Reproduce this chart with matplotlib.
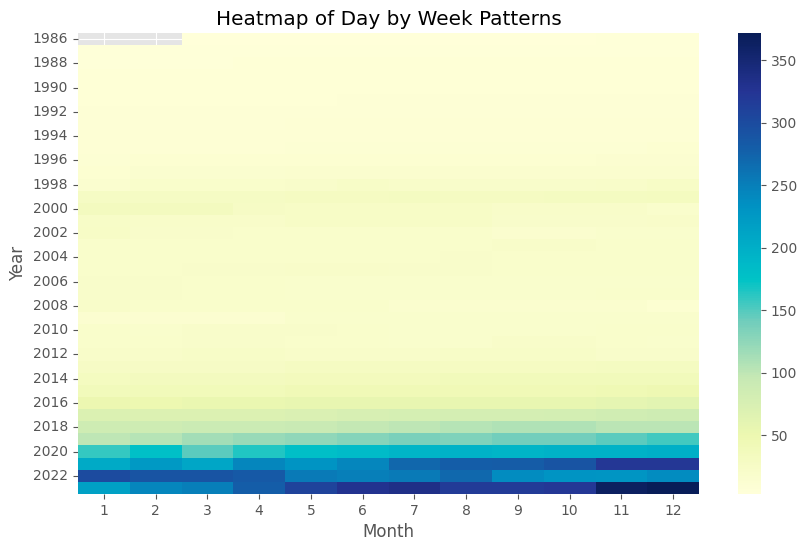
import matplotlib
matplotlib.use("Agg")
import matplotlib.pyplot as plt
from matplotlib.colors import LinearSegmentedColormap
import numpy as np
import pandas as pd
import seaborn as sns

plt.style.use("ggplot")

nan = np.nan

# years (rows) and months (columns) of the heatmap
years = list(range(1986, 2024))
months = list(range(1, 13))

# monthly counts per year (1986 starts in March)
counts = [
    [nan, nan, 3, 3, 3, 4, 4, 4, 4, 4, 5, 5],         # 1986
    [5, 5, 5, 5, 5, 5, 5, 5, 5, 5, 5, 5],             # 1987
    [5, 5, 5, 6, 6, 6, 6, 6, 6, 6, 6, 6],             # 1988
    [6, 6, 6, 6, 6, 6, 6, 6, 6, 7, 7, 7],             # 1989
    [7, 7, 7, 7, 7, 7, 7, 7, 7, 7, 7, 7],             # 1990
    [7, 7, 7, 7, 7, 8, 8, 8, 8, 8, 8, 8],             # 1991
    [8, 8, 8, 8, 8, 8, 8, 8, 8, 8, 8, 8],             # 1992
    [8, 8, 8, 8, 9, 9, 9, 9, 9, 9, 9, 9],             # 1993
    [9, 9, 9, 9, 10, 10, 10, 10, 10, 10, 10, 10],     # 1994
    [10, 10, 10, 10, 11, 11, 11, 11, 11, 11, 11, 12], # 1995
    [11, 12, 12, 12, 13, 13, 13, 13, 13, 13, 14, 14], # 1996
    [13, 15, 15, 15, 16, 17, 17, 16, 16, 16, 17, 17], # 1997
    [15, 20, 20, 20, 21, 24, 22, 21, 21, 21, 22, 26], # 1998
    [28, 28, 28, 28, 29, 30, 31, 30, 30, 31, 31, 32], # 1999
    [34, 34, 34, 27, 26, 26, 26, 25, 23, 23, 23, 18], # 2000
    [24, 22, 22, 22, 25, 25, 25, 25, 21, 21, 21, 22], # 2001
    [26, 21, 21, 20, 20, 20, 20, 20, 16, 16, 18, 18], # 2002
    [20, 20, 20, 20, 20, 20, 20, 20, 22, 22, 20, 20], # 2003
    [20, 20, 20, 20, 20, 20, 20, 21, 20, 20, 20, 20], # 2004
    [20, 20, 21, 21, 22, 22, 21, 21, 20, 20, 20, 20], # 2005
    [21, 21, 20, 20, 18, 18, 18, 18, 18, 18, 18, 18], # 2006
    [21, 21, 19, 19, 18, 18, 18, 18, 18, 18, 20, 20], # 2007
    [22, 20, 20, 20, 20, 20, 17, 17, 17, 17, 16, 12], # 2008
    [14, 14, 14, 14, 18, 18, 18, 18, 18, 18, 18, 18], # 2009
    [19, 18, 21, 21, 21, 19, 18, 18, 18, 18, 19, 20], # 2010
    [20, 20, 21, 21, 19, 19, 18, 18, 22, 22, 19, 18], # 2011
    [22, 23, 24, 24, 22, 22, 22, 24, 24, 24, 21, 21], # 2012
    [27, 27, 27, 27, 30, 30, 30, 30, 30, 30, 31, 31], # 2013
    [32, 34, 34, 34, 36, 36, 36, 38, 38, 38, 38, 38], # 2014
    [38, 40, 40, 40, 43, 43, 43, 43, 43, 43, 45, 47], # 2015
    [52, 50, 53, 53, 55, 55, 55, 55, 55, 55, 60, 63], # 2016
    [72, 70, 70, 70, 73, 76, 78, 80, 80, 82, 85, 88], # 2017
    [88, 88, 90, 90, 93, 97, 100, 105, 107, 107, 102, 102],    # 2018
    [100, 105, 115, 120, 125, 130, 137, 134, 140, 140, 148, 155],  # 2019
    [160, 178, 148, 165, 180, 185, 192, 195, 192, 195, 195, 200],  # 2020
    [205, 225, 210, 245, 232, 245, 272, 280, 282, 290, 322, 322],  # 2021
    [300, 290, 290, 285, 255, 250, 255, 270, 238, 232, 230, 238],  # 2022
    [215, 245, 250, 280, 310, 330, 335, 318, 318, 322, 366, 372],  # 2023
]

df = pd.DataFrame(counts, index=years, columns=months)

# YlGnBu with the vivid cyan middle seen in the picture
cmap = LinearSegmentedColormap.from_list("ylgnbu_vivid", [
    (0.0, "#ffffd9"),
    (0.125, "#edf8b1"),
    (0.25, "#c7e9b4"),
    (0.375, "#70cdbc"),
    (0.465, "#00c3c6"),
    (0.5, "#00b9c8"),
    (0.625, "#0092c3"),
    (0.75, "#145ea8"),
    (0.875, "#253494"),
    (1.0, "#081d58"),
])

fig = plt.figure(figsize=(8.06, 5.52), dpi=100)
ax = fig.add_axes([0.0968, 0.1051, 0.7705, 0.8351])
cax = fig.add_axes([0.9156, 0.1051, 0.0285, 0.8351])

sns.heatmap(df, cmap=cmap, ax=ax, cbar_ax=cax, yticklabels=2)

ax.set_title("Heatmap of Day by Week Patterns")
ax.set_xlabel("Month")
ax.set_ylabel("Year")
ax.tick_params(axis="y", labelrotation=0)
ax.tick_params(axis="x", labelrotation=0)

fig.savefig("out.png", dpi=100)
